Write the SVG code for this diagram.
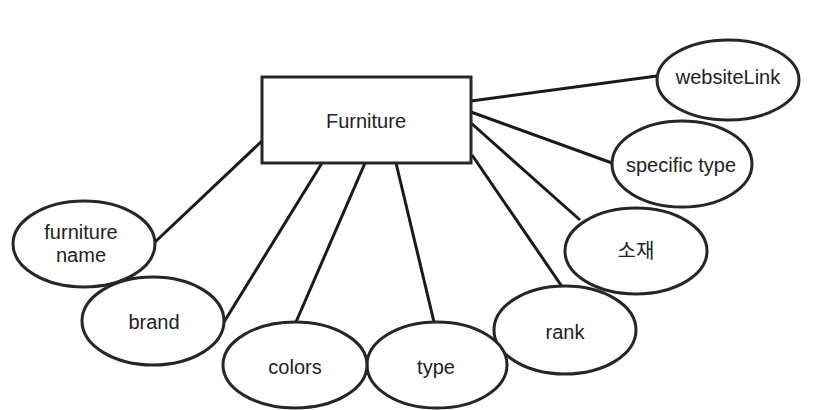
<svg xmlns="http://www.w3.org/2000/svg" width="817" height="410" viewBox="0 0 817 410">
<style>
.n{fill:#fff;stroke:#262626;stroke-width:3}
.c{stroke:#1a1a1a;stroke-width:3;fill:none}
text{font-family:"Liberation Sans",Arial,"Noto Sans CJK KR",sans-serif;font-size:20px;fill:#222;text-anchor:middle;dominant-baseline:central}
</style>
<rect width="817" height="410" fill="#fff"/>
<g id="connectors">
<line class="c" x1="471" y1="101" x2="657" y2="76"/>
<line class="c" x1="471" y1="112" x2="612" y2="163"/>
<line class="c" x1="471" y1="123" x2="580" y2="220"/>
<line class="c" x1="472" y1="155" x2="563" y2="288"/>
<line class="c" x1="396" y1="163" x2="434" y2="322"/>
<line class="c" x1="365" y1="163" x2="296" y2="322"/>
<line class="c" x1="322" y1="163" x2="224" y2="322"/>
<line class="c" x1="262" y1="141" x2="154" y2="243"/>
</g>
<g id="furniture"><rect class="n" x="262" y="77" width="209" height="86"/><text x="366" y="121">Furniture</text></g>
<g id="websiteLink"><ellipse class="n" cx="728" cy="80" rx="71" ry="40"/><text x="728" y="77">websiteLink</text></g>
<g id="specificType"><ellipse class="n" cx="682" cy="164" rx="70" ry="43"/><text x="681" y="165">specific type</text></g>
<g id="material"><ellipse class="n" cx="636" cy="251" rx="71" ry="43"/><text x="636" y="251">소재</text></g>
<g id="rank"><ellipse class="n" cx="565" cy="330" rx="71" ry="44"/><text x="565" y="332">rank</text></g>
<g id="type"><ellipse class="n" cx="437" cy="365" rx="70" ry="43"/><text x="436" y="367">type</text></g>
<g id="colors"><ellipse class="n" cx="295" cy="365" rx="72" ry="43"/><text x="295" y="367">colors</text></g>
<g id="brand"><ellipse class="n" cx="153" cy="321" rx="71" ry="44"/><text x="154" y="322">brand</text></g>
<g id="furnitureName"><ellipse class="n" cx="84" cy="244" rx="71" ry="43"/><text x="81" y="232">furniture</text><text x="81" y="255">name</text></g>
</svg>
